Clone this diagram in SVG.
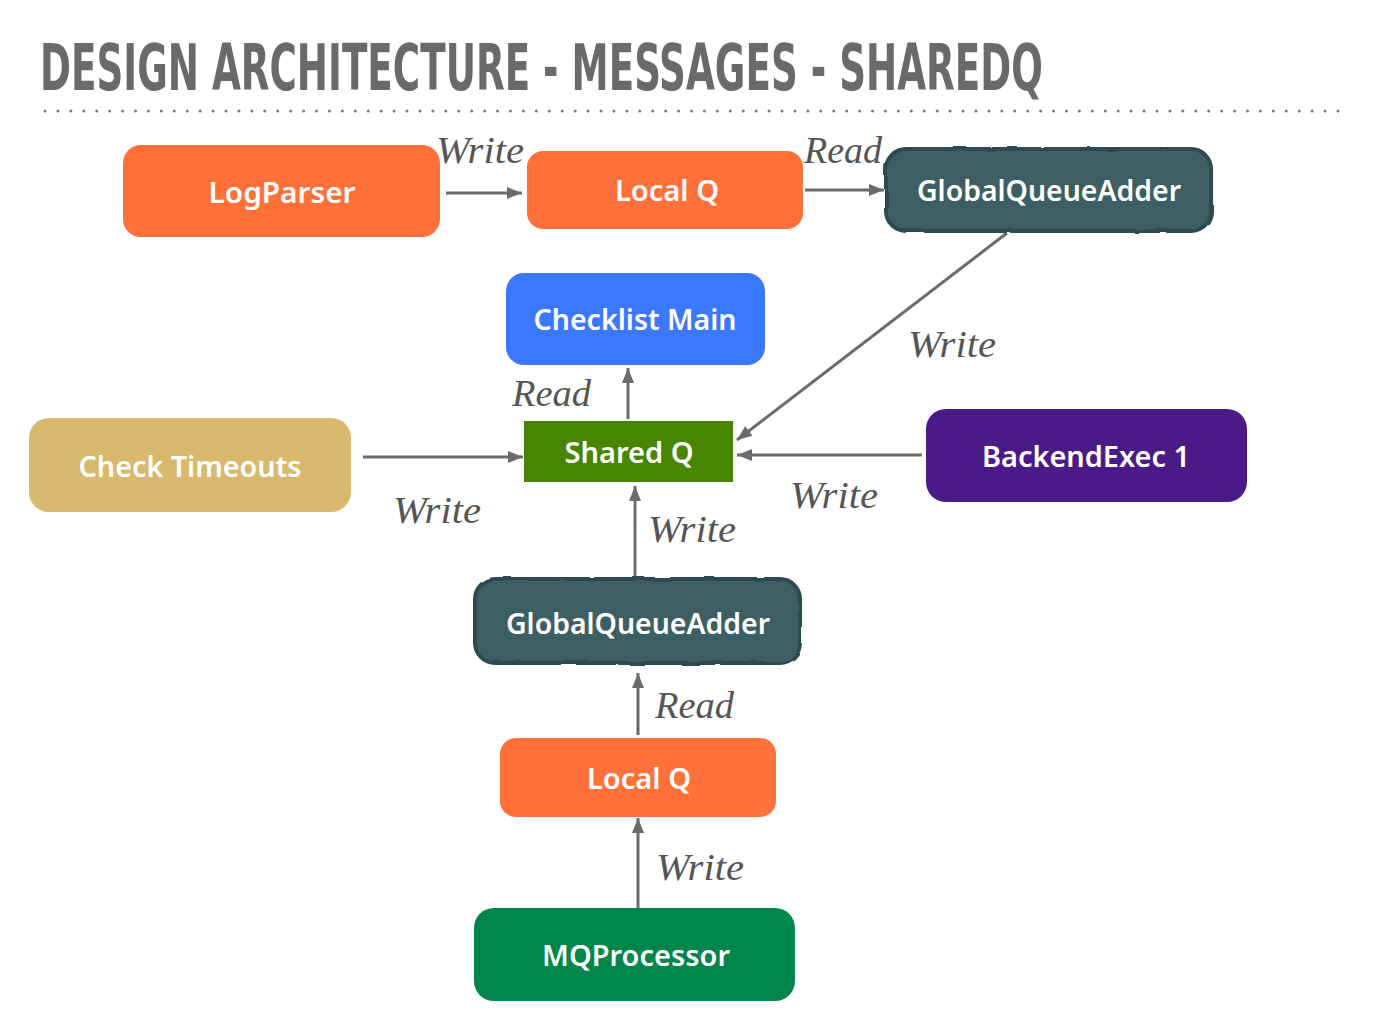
<svg xmlns="http://www.w3.org/2000/svg" width="1379" height="1028" viewBox="0 0 1379 1028">
<style>
.title{font-family:"DejaVu Sans Condensed","DejaVu Sans",sans-serif;font-weight:bold;font-size:64px;fill:#6a6a69}
.nt{font-family:"Noto Sans","Open Sans",sans-serif;font-weight:600;font-size:29px;fill:#ffffff;text-anchor:middle}
.lbl{font-family:"Liberation Serif","DejaVu Serif",serif;font-style:italic;font-size:38px;fill:#555555}
.conn{stroke:#6b6b6b;stroke-width:3;fill:none;marker-end:url(#ah)}
.orange{fill:#FF7139}
.teal{fill:#3E5E63;stroke:#2E4A4F;stroke-width:4}
</style>
<defs>
<marker id="ah" markerUnits="userSpaceOnUse" markerWidth="16" markerHeight="16" viewBox="0 0 16 16" refX="15" refY="8" orient="auto">
<path d="M0,2 L15,8 L0,14 Z" fill="#6b6b6b"/>
</marker>
<filter id="rough" x="-5%" y="-10%" width="110%" height="120%">
<feTurbulence type="fractalNoise" baseFrequency="0.04" numOctaves="2" seed="3" result="n"/>
<feDisplacementMap in="SourceGraphic" in2="n" scale="3"/>
</filter>
</defs>
<rect width="1379" height="1028" fill="#ffffff"/>
<g transform="translate(40,90) scale(0.65,1)">
<text class="title" x="0" y="0" textLength="1543" lengthAdjust="spacingAndGlyphs">DESIGN ARCHITECTURE - MESSAGES - SHAREDQ</text>
</g>
<line x1="45" y1="111" x2="1345" y2="111" stroke="#7a7a7a" stroke-width="3" stroke-linecap="round" stroke-dasharray="0 12.93"/>

<g id="connectors">
<line class="conn" x1="446" y1="193" x2="522" y2="193"/>
<line class="conn" x1="805" y1="190" x2="884" y2="190"/>
<line class="conn" x1="1007" y1="233" x2="737" y2="440"/>
<line class="conn" x1="628" y1="419" x2="628" y2="368"/>
<line class="conn" x1="363" y1="457" x2="523" y2="457"/>
<line class="conn" x1="922" y1="455" x2="737" y2="455"/>
<line class="conn" x1="635" y1="578" x2="635" y2="486"/>
<line class="conn" x1="638" y1="735" x2="638" y2="673"/>
<line class="conn" x1="638" y1="913" x2="638" y2="818"/>
<text class="lbl" x="436" y="163" textLength="88" lengthAdjust="spacingAndGlyphs">Write</text>
<text class="lbl" x="804" y="163" textLength="78" lengthAdjust="spacingAndGlyphs">Read</text>
<text class="lbl" x="908" y="357" textLength="88" lengthAdjust="spacingAndGlyphs">Write</text>
<text class="lbl" x="512" y="406" textLength="79" lengthAdjust="spacingAndGlyphs">Read</text>
<text class="lbl" x="393" y="523" textLength="88" lengthAdjust="spacingAndGlyphs">Write</text>
<text class="lbl" x="790" y="508" textLength="88" lengthAdjust="spacingAndGlyphs">Write</text>
<text class="lbl" x="648" y="542" textLength="88" lengthAdjust="spacingAndGlyphs">Write</text>
<text class="lbl" x="655" y="718" textLength="79" lengthAdjust="spacingAndGlyphs">Read</text>
<text class="lbl" x="656" y="880" textLength="88" lengthAdjust="spacingAndGlyphs">Write</text>
</g>

<g id="logparser">
<rect class="orange" x="123" y="145" width="317" height="92" rx="18"/>
<text class="nt" x="282" y="203" textLength="147" lengthAdjust="spacingAndGlyphs">LogParser</text>
</g>
<g id="localq-top">
<rect class="orange" x="527" y="151" width="276" height="78" rx="16"/>
<text class="nt" x="667" y="201" textLength="104" lengthAdjust="spacingAndGlyphs">Local Q</text>
</g>
<g id="gqa-top">
<rect class="teal" x="886" y="149" width="325" height="82" rx="20" filter="url(#rough)"/>
<text class="nt" x="1049" y="201" textLength="264" lengthAdjust="spacingAndGlyphs">GlobalQueueAdder</text>
</g>
<g id="checklist-main">
<rect x="506" y="273" width="259" height="92" rx="18" fill="#3B78FF"/>
<text class="nt" x="635" y="330" textLength="203" lengthAdjust="spacingAndGlyphs">Checklist Main</text>
</g>
<g id="shared-q">
<rect x="524" y="421" width="209" height="61" fill="#488500"/>
<text class="nt" x="629" y="463" textLength="129" lengthAdjust="spacingAndGlyphs">Shared Q</text>
</g>
<g id="check-timeouts">
<rect x="29" y="418" width="322" height="94" rx="20" fill="#D8B96D"/>
<text class="nt" x="190" y="477" textLength="223" lengthAdjust="spacingAndGlyphs">Check Timeouts</text>
</g>
<g id="backendexec">
<rect x="926" y="409" width="321" height="93" rx="20" fill="#4A1A87"/>
<text class="nt" x="1086" y="467" textLength="208" lengthAdjust="spacingAndGlyphs">BackendExec 1</text>
</g>
<g id="gqa-bottom">
<rect class="teal" x="475" y="579" width="325" height="84" rx="20" filter="url(#rough)"/>
<text class="nt" x="638" y="634" textLength="264" lengthAdjust="spacingAndGlyphs">GlobalQueueAdder</text>
</g>
<g id="localq-bottom">
<rect class="orange" x="500" y="738" width="276" height="79" rx="16"/>
<text class="nt" x="639" y="789" textLength="104" lengthAdjust="spacingAndGlyphs">Local Q</text>
</g>
<g id="mqprocessor">
<rect x="474" y="908" width="321" height="93" rx="20" fill="#00854A"/>
<text class="nt" x="636" y="966" textLength="188" lengthAdjust="spacingAndGlyphs">MQProcessor</text>
</g>
</svg>
